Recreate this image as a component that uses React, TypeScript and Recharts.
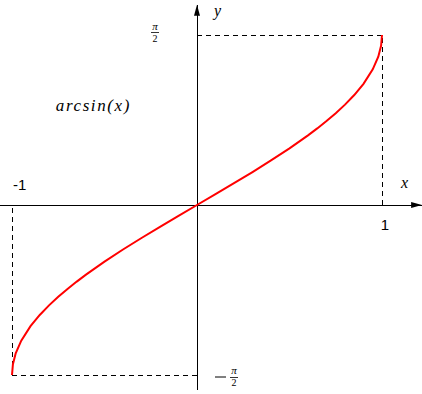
import { LineChart, Line, XAxis, YAxis, ReferenceLine, ReferenceDot } from 'recharts';

const HALF_PI = 1.5708;

// points
const xs = [-1, -0.995, -0.98, -0.95, -0.9, -0.85, -0.8, -0.75, -0.7, -0.65, -0.6, -0.5, -0.4, -0.3, -0.2, -0.1, 0,
  0.1, 0.2, 0.3, 0.4, 0.5, 0.6, 0.65, 0.7, 0.75, 0.8, 0.85, 0.9, 0.95, 0.98, 0.995, 1];
const ys = [-1.5708, -1.4706, -1.3705, -1.2532, -1.1198, -1.016, -0.9273, -0.8481, -0.7754, -0.7076, -0.6435, -0.5236,
  -0.4115, -0.3047, -0.2014, -0.1002, 0, 0.1002, 0.2014, 0.3047, 0.4115, 0.5236, 0.6435, 0.7076, 0.7754, 0.8481,
  0.9273, 1.016, 1.1198, 1.2532, 1.3705, 1.4706, 1.5708];

const xAxisEnds = [-1.07, 1.217];
const yAxisEnds = [-1.71, 1.85];

const data = xs.map((x, i) => ({ x, y: ys[i] }));

const SERIF = 'Liberation Serif';
const SANS = 'Liberation Sans';
const mathStyle = { fontFamily: SERIF, fontStyle: 'italic' } as const;

const dashed = { stroke: '#000', strokeDasharray: '5 4', shapeRendering: 'crispEdges', ifOverflow: 'visible' } as const;

export default function App() {
  return (
    <div style={{ position: 'absolute', left: 0, top: 0, background: '#fff' }}>
      <LineChart width={422} height={394} data={data} margin={{ top: 35, right: 40, bottom: 19, left: 12 }}>
        <XAxis type="number" dataKey="x" domain={[-1, 1]} hide />
        <YAxis type="number" domain={[-HALF_PI, HALF_PI]} hide />

        {/* axes */}
        <ReferenceLine segment={[{ x: xAxisEnds[0], y: 0 }, { x: xAxisEnds[1], y: 0 }]} stroke="#000" strokeWidth={1} shapeRendering="crispEdges" ifOverflow="visible" />
        <ReferenceLine segment={[{ x: 0, y: yAxisEnds[0] }, { x: 0, y: yAxisEnds[1] }]} stroke="#000" strokeWidth={1} shapeRendering="crispEdges" ifOverflow="visible" />

        {/* dashed guides */}
        <ReferenceLine segment={[{ x: 0, y: HALF_PI }, { x: 1, y: HALF_PI }]} {...dashed} />
        <ReferenceLine segment={[{ x: 1, y: 0 }, { x: 1, y: HALF_PI }]} {...dashed} />
        <ReferenceLine segment={[{ x: -1, y: -HALF_PI }, { x: 0, y: -HALF_PI }]} {...dashed} />
        <ReferenceLine segment={[{ x: -1, y: -HALF_PI }, { x: -1, y: 0 }]} {...dashed} />

        <Line dataKey="y" type="linear" stroke="#ff0000" strokeWidth={2} dot={false} isAnimationActive={false} />

        {/* arrow heads */}
        <ReferenceDot x={xAxisEnds[1]} y={0} ifOverflow="visible"
          shape={({ cx, cy }: any) => <path d={`M${cx},${cy} L${cx - 11},${cy - 3} L${cx - 11},${cy + 3} Z`} fill="#000" />} />
        <ReferenceDot x={0} y={yAxisEnds[1]} ifOverflow="visible"
          shape={({ cx, cy }: any) => <path d={`M${cx},${cy} L${cx - 3},${cy + 11} L${cx + 3},${cy + 11} Z`} fill="#000" />} />

        {/* labels */}
        <ReferenceDot x={0} y={HALF_PI} ifOverflow="visible"
          shape={({ cx, cy }: any) => (
            <g>
              <text x={cx - 42} y={cy - 5} textAnchor="middle" fontSize={11} style={mathStyle}>π</text>
              <line x1={cx - 46} x2={cx - 38} y1={cy - 2.5} y2={cy - 2.5} stroke="#000" strokeWidth={0.8} />
              <text x={cx - 42} y={cy + 7} textAnchor="middle" fontSize={10} style={{ fontFamily: SERIF }}>2</text>
            </g>
          )} />
        <ReferenceDot x={0} y={-HALF_PI} ifOverflow="visible"
          shape={({ cx, cy }: any) => (
            <g>
              <line x1={cx + 18} x2={cx + 29} y1={cy + 2} y2={cy + 2} stroke="#000" strokeWidth={1} />
              <text x={cx + 37} y={cy - 1} textAnchor="middle" fontSize={11} style={mathStyle}>π</text>
              <line x1={cx + 33} x2={cx + 41} y1={cy + 2.5} y2={cy + 2.5} stroke="#000" strokeWidth={0.8} />
              <text x={cx + 37} y={cy + 11} textAnchor="middle" fontSize={10} style={{ fontFamily: SERIF }}>2</text>
            </g>
          )} />
        <ReferenceDot x={0} y={0} ifOverflow="visible"
          shape={({ cx, cy }: any) => (
            <g>
              <text x={cx - 184} y={cy - 15} fontSize={15} style={{ fontFamily: SANS }}>-1</text>
              <text x={cx + 188} y={cy + 25} textAnchor="middle" fontSize={15} style={{ fontFamily: SANS }}>1</text>
              <text x={cx + 204} y={cy - 17} fontSize={16} style={mathStyle}>x</text>
            </g>
          )} />
        <ReferenceDot x={0} y={yAxisEnds[1]} ifOverflow="visible"
          shape={({ cx, cy }: any) => (
            <text x={cx + 17} y={cy + 11} fontSize={16} style={mathStyle}>y</text>
          )} />
        <ReferenceDot x={-0.56} y={0.87} ifOverflow="visible"
          shape={({ cx, cy }: any) => (
            <text x={cx} y={cy} textAnchor="middle" fontSize={17} letterSpacing={1.6} style={mathStyle}>arcsin(x)</text>
          )} />
      </LineChart>
    </div>
  );
}
